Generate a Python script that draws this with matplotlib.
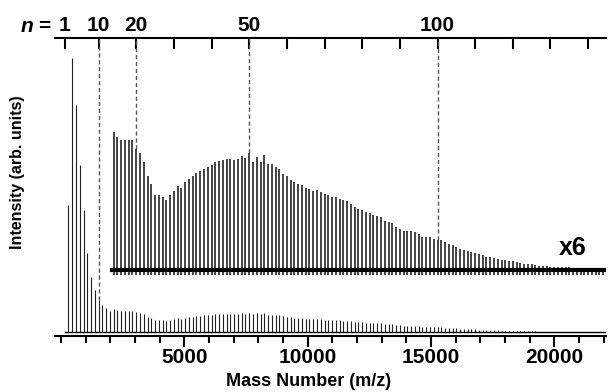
import matplotlib.pyplot as plt
from matplotlib.ticker import MultipleLocator
import numpy as np

plt.rcParams['font.family'] = ['Liberation Sans', 'DejaVu Sans']
plt.rcParams['font.weight'] = 'bold'
plt.rcParams['mathtext.fontset'] = 'custom'
plt.rcParams['mathtext.it'] = 'Liberation Sans:italic:bold'

# cluster size n -> peak intensity (arb. units, 1x trace)
unit_mass = 152.6
cluster_n = np.arange(2, 146)
intensity = [
    127.3, 274.0, 227.3, 167.3, 122.3, 79.0, 55.6, 42.3, 32.3, 27.3, 24.0, 21.6,
    23.1, 22.2, 21.7, 21.7, 21.8, 21.7, 20.2, 19.6, 18.1, 15.8, 14.4, 12.5, 12.5, 12.2, 11.8, 12.5, 13.3,
    14.0, 13.8, 14.7, 15.3, 15.7, 16.2, 16.5, 16.9, 17.2, 17.5, 18.1, 18.3, 18.4, 18.6, 18.6, 18.4, 18.6, 19.0, 18.8, 19.6,
    18.1, 18.9, 18.1, 19.3, 17.7, 17.8, 17.2, 16.9, 16.1, 15.8, 15.1, 14.7, 14.4, 14.2, 13.8, 13.6, 13.3, 13.4, 13.1, 12.7,
    12.5, 12.3, 12.3, 11.9, 11.7, 11.5, 11.1, 10.6, 10.3, 10.0, 9.7, 9.6, 9.2, 9.0, 8.9, 8.3, 8.1, 7.9, 7.3, 6.9,
    6.6, 6.6, 6.5, 6.4, 6.1, 5.6, 5.6, 5.6, 5.3, 5.1, 5.0, 4.7, 4.4, 4.3, 3.9, 3.6, 3.4, 3.2, 3.0, 2.9,
    2.8, 2.5, 2.3, 2.2, 2.1, 1.9, 1.8, 1.7, 1.5, 1.5, 1.4, 1.3, 1.1, 1.1, 1.0, 0.9, 0.8, 0.7, 0.7, 0.6,
    0.6, 0.5, 0.5, 0.5, 0.5, 0.4, 0.4, 0.4, 0.4, 0.4, 0.3, 0.3, 0.3, 0.3, 0.3,
]
zoom_from = 14
zoom_factor = 6
zoom_offset = 62

top_ticks = [1] + list(range(10, 141, 10))
top_labels = {1: '1', 10: '10', 20: '20', 50: '50', 100: '100'}
marked_n = [10, 20, 50, 100]
mass_ticks = [5000, 10000, 15000, 20000]

fig = plt.figure(figsize=(6.08, 3.92), dpi=100)
ax = fig.add_axes([0.0905, 0.1436, 0.9062, 0.7602])

mass = cluster_n * unit_mass
inten = np.array(intensity)

# 1x trace
ax.vlines(mass, 0, inten, color='#222222', lw=0.8)
ax.plot([150, 22100], [0, 0], color='k', lw=1.0)

# x6 trace
sel = cluster_n >= zoom_from
zoomed = zoom_offset + zoom_factor * inten[sel]
ax.vlines(mass[sel], zoom_offset - 5, zoomed, color='#111111', lw=1.1)
ax.plot([mass[sel][0] - 60, 22100], [zoom_offset, zoom_offset], color='k', lw=3.0)

ymax = 294.6
for k in marked_n:
    i = k - 2
    top = inten[i] if k < zoom_from else zoom_offset + zoom_factor * inten[i]
    ax.vlines(k * unit_mass, top, ymax, color='#555555', lw=1.0, linestyles=(0, (3, 2)))

ax.set_xlim(-239, 22087)
ax.set_ylim(-3.4, ymax)
ax.set_yticks([])
for s in ['left', 'right', 'top']:
    ax.spines[s].set_visible(False)
ax.spines['bottom'].set_linewidth(1.5)
ax.set_xticks(mass_ticks)
ax.xaxis.set_minor_locator(MultipleLocator(1000))
ax.tick_params(axis='x', which='major', length=8, width=1.5, labelsize=15, pad=1)
ax.tick_params(axis='x', which='minor', length=5, width=1.5)

secax = ax.secondary_xaxis('top', functions=(lambda m: m / unit_mass, lambda k: k * unit_mass))
secax.set_xticks(top_ticks)
secax.set_xticklabels([top_labels.get(k, '') for k in top_ticks])
secax.tick_params(direction='in', length=8, width=1.5, labelsize=15, pad=2)
secax.spines['top'].set_linewidth(1.5)

fig.text(52 / 608, 1 - 26.5 / 392, r'$n$ =', fontsize=15, ha='right', va='center')
fig.text(18 / 608, 1 - 172 / 392, 'Intensity (arb. units)', fontsize=11.5,
         rotation=90, ha='center', va='center')
fig.text(309 / 608, 1 - 381 / 392, 'Mass Number (m/z)', fontsize=13, ha='center', va='center')
fig.text(573 / 608, 1 - 248 / 392, 'x6', fontsize=18, ha='center', va='center')

fig.savefig('out.png', dpi=100)
